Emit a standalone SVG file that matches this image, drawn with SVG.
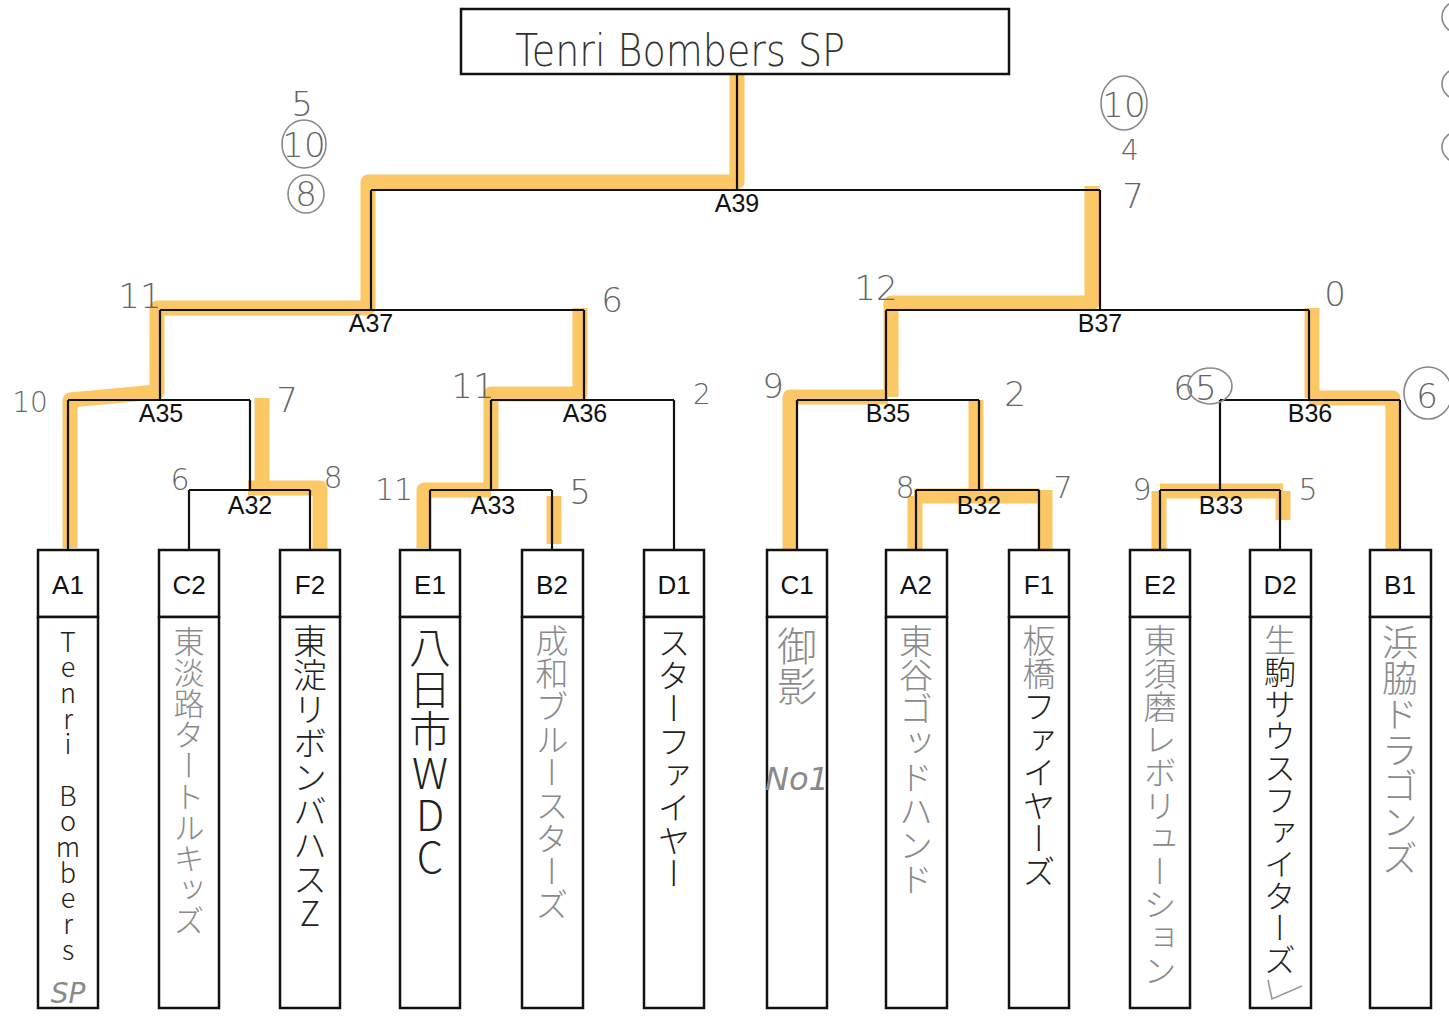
<svg xmlns="http://www.w3.org/2000/svg" width="1449" height="1026" viewBox="0 0 1449 1026">
<style>
.ln{fill:none;stroke:#111;stroke-width:2.2}
.hl{fill:none;stroke:#fbb431;stroke-opacity:0.75;stroke-width:15;stroke-linejoin:round}
.box{fill:#fff;stroke:#111;stroke-width:2.5}
.code{font-family:"Liberation Sans",Arial,sans-serif;font-size:26px;fill:#111;text-anchor:middle}
.mlab{font-family:"Liberation Sans",Arial,sans-serif;font-size:25px;fill:#111;text-anchor:middle}
.sc{font-family:"DejaVu Sans","Liberation Sans",sans-serif;font-weight:200;font-size:34px;fill:#666;text-anchor:middle}
.ring{fill:none;stroke:#888;stroke-width:1.6}
.vt{font-family:"Noto Sans CJK JP","Noto Sans",sans-serif;font-weight:300;writing-mode:vertical-rl;text-orientation:upright}
.blk{fill:#222}
.gry{fill:#8a8a8a}
</style>

<g id="highlights">
<path class="hl" d="M70,548 V400 L157,392 V308 H368 V182 H737 V74"/>
<path class="hl" d="M320,556 V488 H248 M262,488 V398"/>
<path class="hl" d="M424,548 V490 H491 M491,490 V394 H580 V308"/>
<path class="hl" d="M554,496 V544"/>
<path class="hl" d="M790,558 V397 H888 M891,397 V303 H1092 V186"/>
<path class="hl" d="M976,400 V490 M914,496 H1040 M915,496 V570 M1045,490 V550"/>
<path class="hl" d="M1393,550 V398 H1309 M1312,398 V308"/>
<path class="hl" d="M1160,491 H1283 M1159,491 V552 M1283,491 V520"/>
</g>

<g id="connectors">
<path class="ln" d="M737,74 V190 M371,190 H1100 M371,190 V310 M1100,190 V310"/>
<path class="ln" d="M160,310 H584 M160,310 V400 M584,310 V400"/>
<path class="ln" d="M886,310 H1309 M886,310 V400 M1309,310 V400"/>
<path class="ln" d="M68,400 H250 M68,400 V550 M250,400 V490"/>
<path class="ln" d="M491,400 H674 M491,400 V490 M674,400 V550"/>
<path class="ln" d="M797,400 H979 M797,400 V550 M979,400 V490"/>
<path class="ln" d="M1220,400 H1400 M1220,400 V490 M1400,400 V550"/>
<path class="ln" d="M189,490 H310 M189,490 V550 M310,490 V550"/>
<path class="ln" d="M430,490 H552 M430,490 V550 M552,490 V550"/>
<path class="ln" d="M916,490 H1039 M916,490 V550 M1039,490 V550"/>
<path class="ln" d="M1160,490 H1280 M1160,490 V550 M1280,490 V550"/>
</g>

<g id="match-labels">
<text class="mlab" x="737" y="212">A39</text>
<text class="mlab" x="371" y="332">A37</text>
<text class="mlab" x="1100" y="332">B37</text>
<text class="mlab" x="161" y="422">A35</text>
<text class="mlab" x="585" y="422">A36</text>
<text class="mlab" x="888" y="422">B35</text>
<text class="mlab" x="1310" y="422">B36</text>
<text class="mlab" x="250" y="514">A32</text>
<text class="mlab" x="493" y="514">A33</text>
<text class="mlab" x="979" y="514">B32</text>
<text class="mlab" x="1221" y="514">B33</text>
</g>

<g id="title">
<rect class="box" x="461" y="9" width="548" height="65"/>
<text x="515" y="66" textLength="330" lengthAdjust="spacingAndGlyphs" style="font-family:'DejaVu Sans',sans-serif;font-weight:200;font-size:44px;fill:#333">Tenri Bombers SP</text>
</g>

<g id="team-A1"><rect class="box" x="38" y="550" width="60" height="67"/><rect class="box" x="38" y="617" width="60" height="391"/><text class="code" x="68" y="594">A1</text>
<text class="vt blk" x="68" y="628" style="font-size:27px" textLength="335" lengthAdjust="spacing">Tenri Bombers</text>
<text class="gry" x="68" y="1003" text-anchor="middle" style="font-family:'DejaVu Sans',sans-serif;font-weight:200;font-style:italic;font-size:28px">SP</text></g>

<g id="team-C2"><rect class="box" x="159" y="550" width="60" height="67"/><rect class="box" x="159" y="617" width="60" height="391"/><text class="code" x="189" y="594">C2</text>
<text class="vt gry" x="189" y="626" style="font-size:31px">東淡路タートルキッズ</text></g>

<g id="team-F2"><rect class="box" x="280" y="550" width="60" height="67"/><rect class="box" x="280" y="617" width="60" height="391"/><text class="code" x="310" y="594">F2</text>
<text class="vt blk" x="310" y="624" style="font-size:34px">東淀リボンバハスZ</text></g>

<g id="team-E1"><rect class="box" x="400" y="550" width="60" height="67"/><rect class="box" x="400" y="617" width="60" height="391"/><text class="code" x="430" y="594">E1</text>
<text class="vt blk" x="430" y="626" style="font-size:42px">八日市WDC</text></g>

<g id="team-B2"><rect class="box" x="522" y="550" width="61" height="67"/><rect class="box" x="522" y="617" width="61" height="391"/><text class="code" x="552" y="594">B2</text>
<text class="vt gry" x="552" y="624" style="font-size:33px">成和ブルースターズ</text></g>

<g id="team-D1"><rect class="box" x="644" y="550" width="60" height="67"/><rect class="box" x="644" y="617" width="60" height="391"/><text class="code" x="674" y="594">D1</text>
<text class="vt blk" x="674" y="626" style="font-size:33px">スターファイヤー</text></g>

<g id="team-C1"><rect class="box" x="767" y="550" width="60" height="67"/><rect class="box" x="767" y="617" width="60" height="391"/><text class="code" x="797" y="594">C1</text>
<text class="vt gry" x="797" y="626" style="font-size:40px">御影</text>
<text class="gry" x="797" y="790" text-anchor="middle" style="font-family:'DejaVu Sans',sans-serif;font-weight:200;font-style:italic;font-size:32px">No1</text></g>

<g id="team-A2"><rect class="box" x="886" y="550" width="61" height="67"/><rect class="box" x="886" y="617" width="61" height="391"/><text class="code" x="916" y="594">A2</text>
<text class="vt gry" x="916" y="624" style="font-size:34px">東谷ゴッドハンド</text></g>

<g id="team-F1"><rect class="box" x="1009" y="550" width="60" height="67"/><rect class="box" x="1009" y="617" width="60" height="391"/><text class="code" x="1039" y="594">F1</text>
<text class="vt" x="1039" y="624" style="font-size:33px"><tspan class="gry">板橋</tspan><tspan class="blk">ファイヤーズ</tspan></text></g>

<g id="team-E2"><rect class="box" x="1130" y="550" width="60" height="67"/><rect class="box" x="1130" y="617" width="60" height="391"/><text class="code" x="1160" y="594">E2</text>
<text class="vt gry" x="1160" y="624" style="font-size:33px">東須磨レボリューション</text></g>

<g id="team-D2"><rect class="box" x="1250" y="550" width="61" height="67"/><rect class="box" x="1250" y="617" width="61" height="391"/><text class="code" x="1280" y="594">D2</text>
<text class="vt" x="1280" y="624" style="font-size:32px"><tspan class="gry">生</tspan><tspan class="blk">駒サウスファイターズ</tspan></text>
<path d="M1268,980 L1272,999 L1302,986" fill="none" stroke="#999" stroke-width="1.6"/></g>

<g id="team-B1"><rect class="box" x="1370" y="550" width="61" height="67"/><rect class="box" x="1370" y="617" width="61" height="391"/><text class="code" x="1400" y="594">B1</text>
<text class="vt gry" x="1400" y="624" style="font-size:36px">浜脇ドラゴンズ</text></g>

<g id="scores">
<text class="sc" x="302" y="116">5</text>
<text class="sc" x="304" y="157">10</text><ellipse class="ring" cx="304" cy="144" rx="22" ry="24"/>
<text class="sc" x="306" y="206">8</text><ellipse class="ring" cx="306" cy="194" rx="18" ry="19"/>
<text class="sc" x="1124" y="117">10</text><ellipse class="ring" cx="1124" cy="103" rx="23" ry="27"/>
<text class="sc" x="1130" y="160" style="font-size:28px">4</text>
<text class="sc" x="1133" y="208">7</text>
<text class="sc" x="140" y="308">11</text>
<text class="sc" x="612" y="312">6</text>
<text class="sc" x="876" y="300">12</text>
<text class="sc" x="1335" y="306">0</text>
<text class="sc" x="30" y="412" style="font-size:28px">10</text>
<text class="sc" x="287" y="412">7</text>
<text class="sc" x="473" y="398">11</text>
<text class="sc" x="702" y="404" style="font-size:28px">2</text>
<text class="sc" x="773" y="398">9</text>
<text class="sc" x="1015" y="406">2</text>
<text class="sc" x="1195" y="400">65</text><ellipse class="ring" cx="1210" cy="386" rx="22" ry="18"/>
<text class="sc" x="1427" y="408">6</text><ellipse class="ring" cx="1428" cy="393" rx="24" ry="26"/>
<text class="sc" x="180" y="490" style="font-size:30px">6</text>
<text class="sc" x="333" y="488" style="font-size:30px">8</text>
<text class="sc" x="394" y="500" style="font-size:30px">11</text>
<text class="sc" x="580" y="504">5</text>
<text class="sc" x="905" y="498" style="font-size:30px">8</text>
<text class="sc" x="1063" y="498" style="font-size:30px">7</text>
<text class="sc" x="1142" y="500" style="font-size:30px">9</text>
<text class="sc" x="1308" y="500" style="font-size:30px">5</text>
<ellipse class="ring" cx="1462" cy="17" rx="20" ry="17"/>
<ellipse class="ring" cx="1460" cy="84" rx="18" ry="16"/>
<ellipse class="ring" cx="1460" cy="147" rx="18" ry="16"/>
</g>
</svg>
